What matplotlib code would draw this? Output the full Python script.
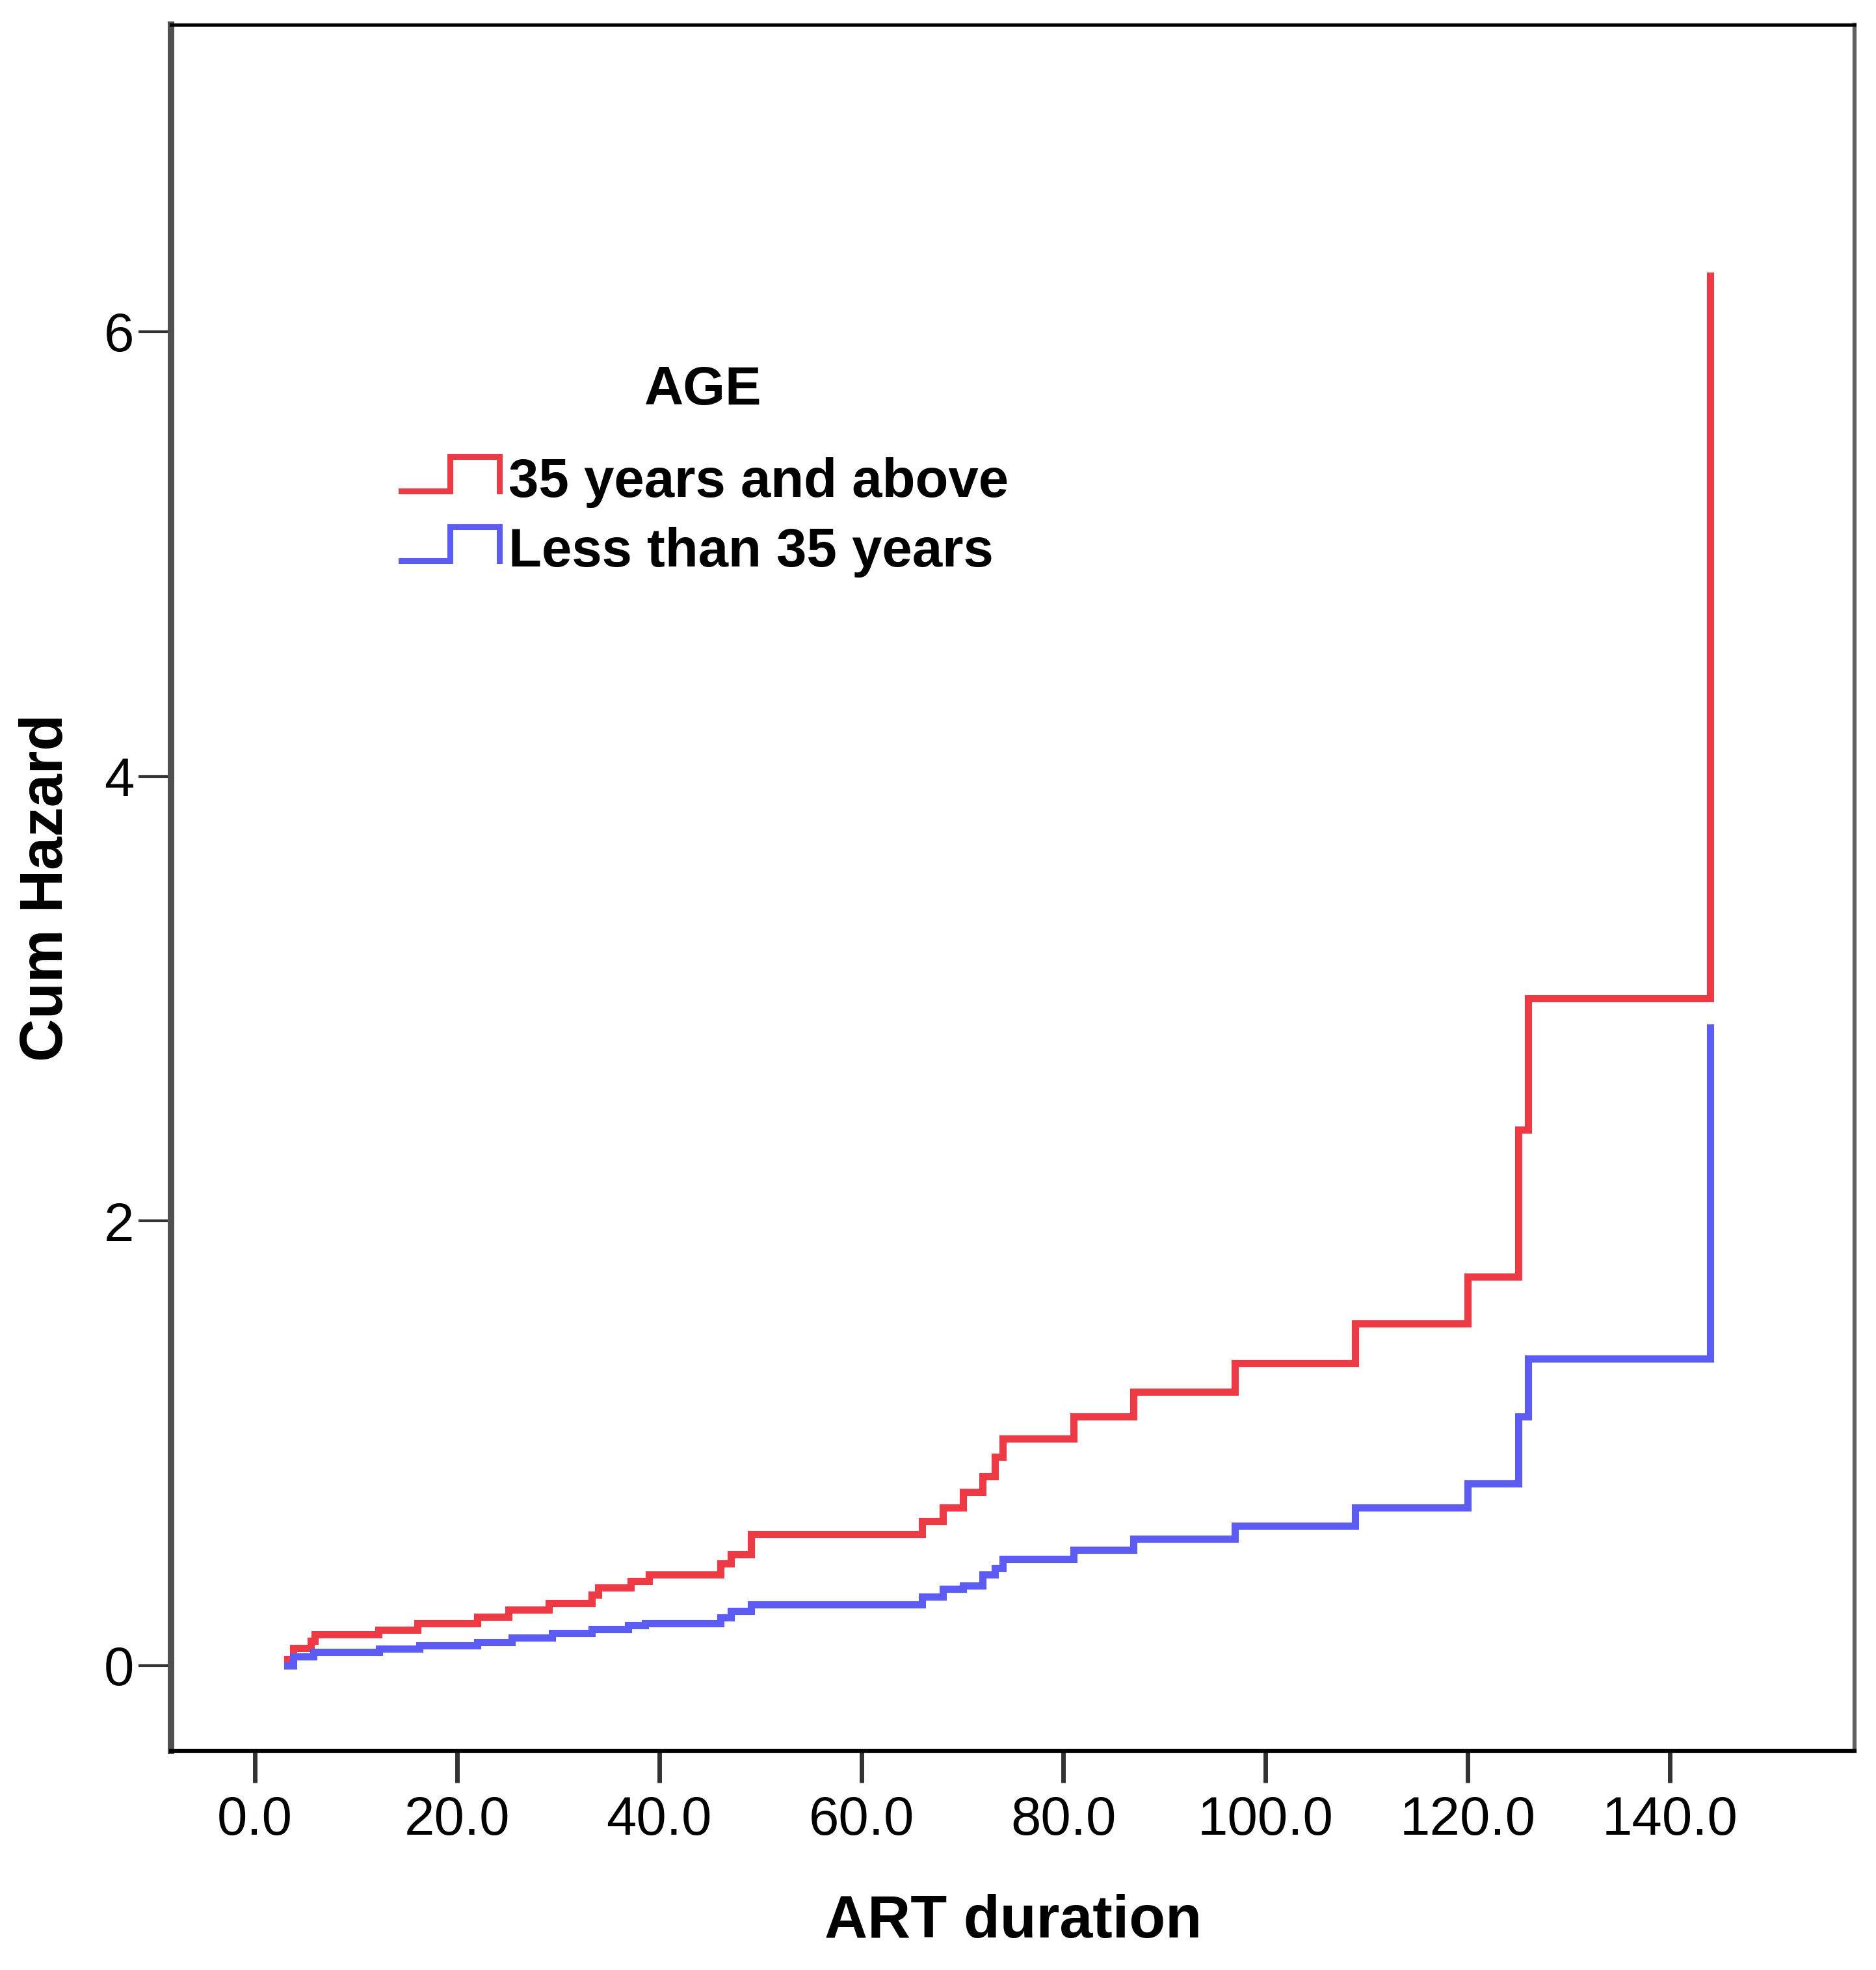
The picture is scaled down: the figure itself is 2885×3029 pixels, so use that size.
import matplotlib
matplotlib.use('Agg')
import matplotlib.pyplot as plt
from matplotlib.legend_handler import HandlerBase
from matplotlib.lines import Line2D

# --- data (cumulative hazard, step at each event) ---
red_t = [3.2, 3.8, 5.5, 5.9, 12.2, 16.1, 22.0, 25.1, 29.1, 33.3, 34.0, 37.2, 39.0,
         46.1, 47.1, 49.1, 66.0, 68.1, 70.1, 72.0, 73.2, 74.0, 81.0, 86.9, 97.0,
         108.9, 120.0, 125.0, 126.0, 144.0]
red_h = [0.03, 0.08, 0.11, 0.14, 0.16, 0.19, 0.22, 0.25, 0.28, 0.32, 0.35, 0.38, 0.41,
         0.46, 0.50, 0.59, 0.65, 0.71, 0.78, 0.85, 0.94, 1.02, 1.12, 1.23, 1.36,
         1.54, 1.75, 2.41, 3.00, 6.25]

blue_t = [3.2, 3.8, 5.8, 12.3, 16.3, 22.0, 25.4, 29.4, 33.3, 36.9, 38.6, 46.1, 47.1,
          49.1, 66.0, 68.1, 70.1, 72.0, 73.2, 74.0, 81.0, 86.9, 97.0, 108.9, 120.0,
          125.0, 126.0, 144.0]
blue_h = [0.0, 0.04, 0.06, 0.075, 0.09, 0.105, 0.125, 0.145, 0.165, 0.18, 0.19, 0.215, 0.245,
          0.275, 0.31, 0.345, 0.36, 0.41, 0.44, 0.48, 0.52, 0.57, 0.63, 0.71, 0.82,
          1.12, 1.38, 2.87]

labels = ['35 years and above', 'Less than 35 years']
x_ticks = [0, 20, 40, 60, 80, 100, 120, 140]
y_ticks = [0, 2, 4, 6]

RED = '#ee3a44'
BLUE = '#5c5cf5'

plt.rcParams['font.family'] = ['Liberation Sans', 'DejaVu Sans']


class StepHandler(HandlerBase):
    # legend key drawn as a little step, like in SPSS
    def create_artists(self, legend, orig, xdescent, ydescent, width, height, fontsize, trans):
        x0 = -xdescent
        lo = -ydescent + 0.15 * height
        hi = -ydescent + 1.05 * height
        ln = Line2D([x0, x0 + width * 0.5, x0 + width * 0.5, x0 + width, x0 + width],
                    [lo, lo, hi, hi, lo], color=orig.get_color(), lw=6.5,
                    solid_joinstyle='miter', transform=trans)
        return [ln]


fig = plt.figure(figsize=(28.85, 30.29), dpi=100)
ax = fig.add_axes([0.0912, 0.1113, 0.8974, 0.8762])

l1, = ax.step(red_t, red_h, where='post', color=RED, lw=8, solid_joinstyle='miter')
l2, = ax.step(blue_t, blue_h, where='post', color=BLUE, lw=8, solid_joinstyle='miter')

ax.set_xlim(-8.3, 158.3)
ax.set_ylim(-0.383, 7.381)
ax.set_xticks(x_ticks)
ax.set_xticklabels([f'{v:.1f}' for v in x_ticks], fontsize=60)
ax.set_yticks(y_ticks)
ax.set_yticklabels([str(v) for v in y_ticks], fontsize=60)
ax.tick_params(axis='x', direction='out', length=35, width=5, color='#333333', pad=14)
ax.tick_params(axis='y', direction='out', length=36, width=3, color='#333333', pad=5)

ax.spines['left'].set_linewidth(7.2)
ax.spines['left'].set_color('#505050')
ax.spines['bottom'].set_linewidth(4.5)
ax.spines['bottom'].set_color('black')
ax.spines['top'].set_linewidth(3.6)
ax.spines['top'].set_color('black')
ax.spines['right'].set_linewidth(4.5)
ax.spines['right'].set_color('#606060')

ax.set_xlabel('ART duration', fontsize=66, fontweight='bold', labelpad=53)
ax.set_ylabel('Cum Hazard', fontsize=66, fontweight='bold', labelpad=32)

leg = ax.legend([l1, l2], labels, handler_map={Line2D: StepHandler()},
                loc='upper left', bbox_to_anchor=(575 / 2885, 1 - 661 / 3029),
                bbox_transform=fig.transFigure, frameon=False, borderpad=0,
                prop={'size': 60, 'weight': 'bold'}, handlelength=1.81,
                handletextpad=0.18, labelspacing=0.35)
fig.text(1081 / 2885, 1 - 622 / 3029, 'AGE', fontsize=60, fontweight='bold',
         ha='center', va='baseline')

fig.savefig('out.png', dpi=100)
